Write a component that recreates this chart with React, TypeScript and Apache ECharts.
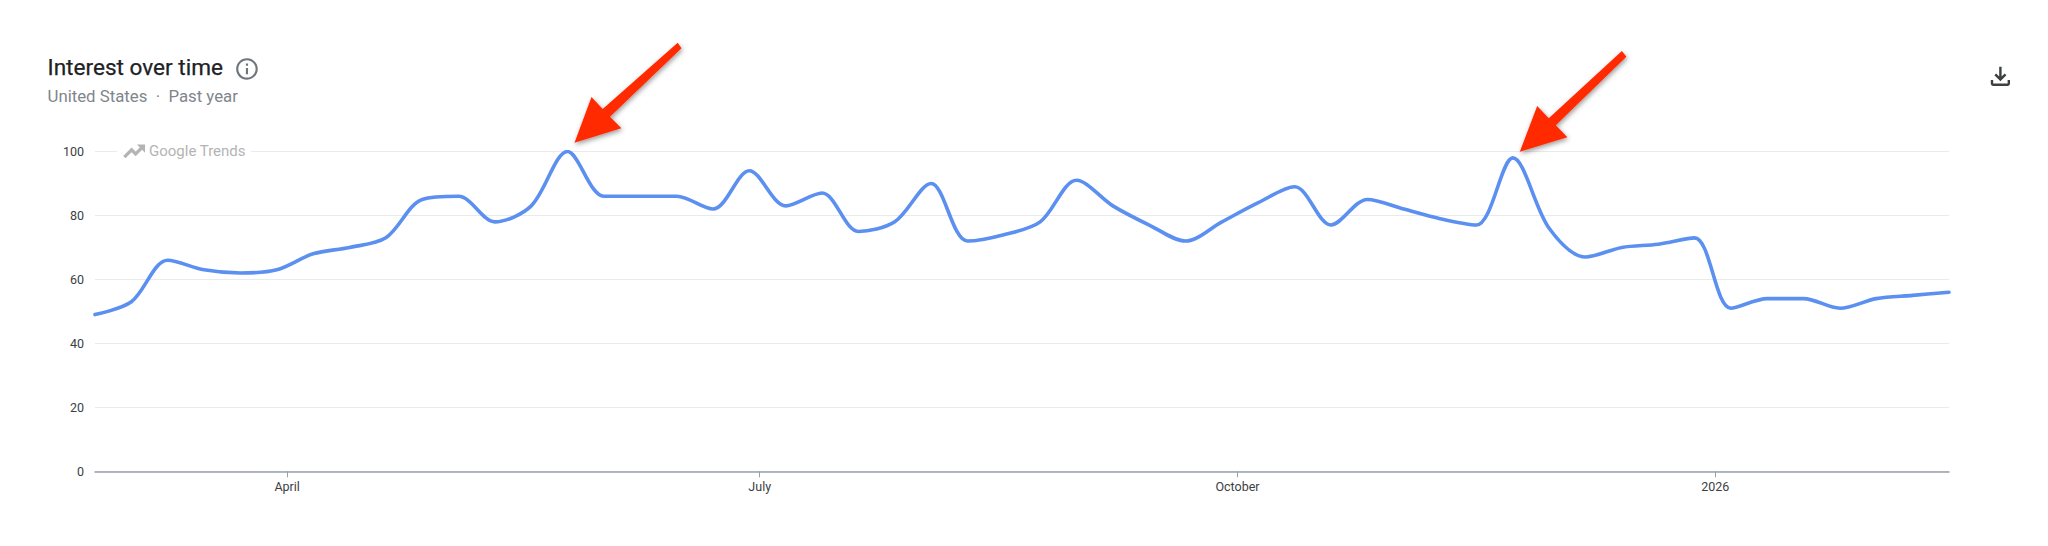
import React, { useEffect, useRef } from "react";
import * as echarts from "echarts";

const weeks = [
  "2025-02-23","2025-03-02","2025-03-09","2025-03-16","2025-03-23","2025-03-30",
  "2025-04-06","2025-04-13","2025-04-20","2025-04-27",
  "2025-05-04","2025-05-11","2025-05-18","2025-05-25",
  "2025-06-01","2025-06-08","2025-06-15","2025-06-22","2025-06-29",
  "2025-07-06","2025-07-13","2025-07-20","2025-07-27",
  "2025-08-03","2025-08-10","2025-08-17","2025-08-24","2025-08-31",
  "2025-09-07","2025-09-14","2025-09-21","2025-09-28",
  "2025-10-05","2025-10-12","2025-10-19","2025-10-26",
  "2025-11-02","2025-11-09","2025-11-16","2025-11-23","2025-11-30",
  "2025-12-07","2025-12-14","2025-12-21","2025-12-28",
  "2026-01-04","2026-01-11","2026-01-18","2026-01-25",
  "2026-02-01","2026-02-08","2026-02-15",
];
const interest = [
  49,53,66,63,62,63,
  68,70,73,85,
  86,78,83,100,
  86,86,86,82,94,
  83,87,75,78,
  90,72,74,78,91,
  83,77,72,78,
  84,89,77,85,
  82,79,77,98,76,
  67,70,71,73,
  51,54,54,51,
  54,55,56,
];
const tickDates = ["2025-04-01", "2025-07-01", "2025-10-01", "2026-01-01"];
const tickLabels = ["April", "July", "October", "2026"];

const ts = (d: string) => new Date(d + "T00:00:00Z").getTime();

const UI_FONT = "Roboto, 'Noto Sans', sans-serif";

echarts.graphic.registerShape(
  "trendUp",
  echarts.graphic.extendPath("M16 6l2.29 2.29-4.88 4.88-4-4L2 16.59 3.41 18l6-6 4 4 6.3-6.29L22 12V6z", {})
);
echarts.graphic.registerShape(
  "infoIcon",
  echarts.graphic.extendPath("M11 7h2v2h-2zm0 4h2v6h-2zm1-9C6.48 2 2 6.48 2 12s4.48 10 10 10 10-4.48 10-10S17.52 2 12 2zm0 18c-4.41 0-8-3.59-8-8s3.59-8 8-8 8 3.59 8 8-3.59 8-8 8z", {})
);
echarts.graphic.registerShape(
  "downloadIcon",
  echarts.graphic.extendPath("M18 15v3H6v-3H4v3c0 1.1.9 2 2 2h12c1.1 0 2-.9 2-2v-3h-2zm-1-4l-1.41-1.41L13 12.17V4h-2v8.17L8.41 9.59 7 11l5 5 5-5z", {})
);

const arrow = (points: number[][]) => ({
  type: "polygon",
  z: 20,
  shape: { points },
  style: {
    fill: "#ff2a00",
    shadowBlur: 5,
    shadowColor: "rgba(0,0,0,0.4)",
    shadowOffsetX: 1,
    shadowOffsetY: 2,
  },
});

export default function App() {
  const ref = useRef<HTMLDivElement>(null);
  useEffect(() => {
    document.body.style.margin = "0";
    const chart = echarts.init(ref.current!, undefined, { renderer: "svg" });
    const labelByTs = new Map(tickDates.map((d, i) => [ts(d), tickLabels[i]]));
    chart.setOption({
      animation: false,
      backgroundColor: "#ffffff",
      grid: { left: 95, right: 99, top: 151.5, bottom: 74.7, containLabel: false },
      xAxis: {
        type: "value",
        min: ts(weeks[0]),
        max: ts(weeks[weeks.length - 1]),
        axisLine: { show: true, onZero: false, lineStyle: { color: "#9aa0a6", width: 1.5 } },
        axisTick: {
          show: true,
          length: 6,
          customValues: tickDates.map(ts),
          lineStyle: { color: "#9aa0a6", width: 1 },
        },
        splitLine: { show: false },
        axisLabel: {
          customValues: tickDates.map(ts),
          formatter: (v: number) => labelByTs.get(v) ?? "",
          color: "#3c4043",
          fontFamily: UI_FONT,
          fontSize: 12.5,
          margin: 9,
        },
      },
      yAxis: {
        type: "value",
        min: 0,
        max: 100,
        interval: 20,
        axisLine: { show: false },
        axisTick: { show: false },
        splitLine: { show: true, lineStyle: { color: "#e8eaed", width: 1.2 } },
        axisLabel: {
          color: "#3c4043",
          fontFamily: UI_FONT,
          fontSize: 12.5,
          margin: 11,
        },
      },
      series: [
        {
          type: "line",
          data: weeks.map((w, i) => [ts(w), interest[i]]),
          smooth: 0.32,
          showSymbol: false,
          symbol: "none",
          lineStyle: { color: "#5b8ff0", width: 3.6, cap: "round", join: "round" },
          silent: true,
          z: 5,
        },
      ],
      graphic: [
        {
          type: "text",
          x: 47.5,
          y: 56,
          style: { text: "Interest over time", fontFamily: UI_FONT, fontSize: 22.6, fontWeight: 400, fill: "#202124", stroke: "#202124", lineWidth: 0.25 },
        },
        {
          type: "text",
          x: 47.5,
          y: 87,
          style: { text: "United States  ·  Past year", fontFamily: UI_FONT, fontSize: 16.8, fill: "#80868b" },
        },
        { type: "infoIcon", x: 234, y: 56, scaleX: 1.08, scaleY: 1.08, style: { fill: "#70757a" } },
        { type: "downloadIcon", x: 1986, y: 62, scaleX: 1.2, scaleY: 1.2, style: { fill: "#3c4043" } },
        { type: "rect", z: 3, shape: { x: 117, y: 145, width: 134, height: 14 }, style: { fill: "#ffffff" } },
        { type: "trendUp", z: 4, x: 122, y: 139, scaleX: 1.02, scaleY: 1.02, style: { fill: "#b4b4b4", stroke: "#b4b4b4", lineWidth: 1.2 } },
        {
          type: "text",
          z: 4,
          x: 149,
          y: 143,
          style: { text: "Google Trends", fontFamily: UI_FONT, fontSize: 15, fill: "#b4b4b4" },
        },
        arrow([[574.5, 142.7], [591.5, 97], [602.7, 109], [677.7, 42.7], [681.5, 48.3], [610, 116.7], [621.4, 128.3]]),
        arrow([[1519.8, 151.7], [1537.2, 106], [1548.8, 118.3], [1621.9, 51], [1626.4, 56.7], [1555.8, 125.3], [1567.4, 137.3]]),
      ],
    });
    return () => chart.dispose();
  }, []);
  return <div ref={ref} style={{ position: "absolute", left: 0, top: 0, width: 2048, height: 546 }} />;
}
